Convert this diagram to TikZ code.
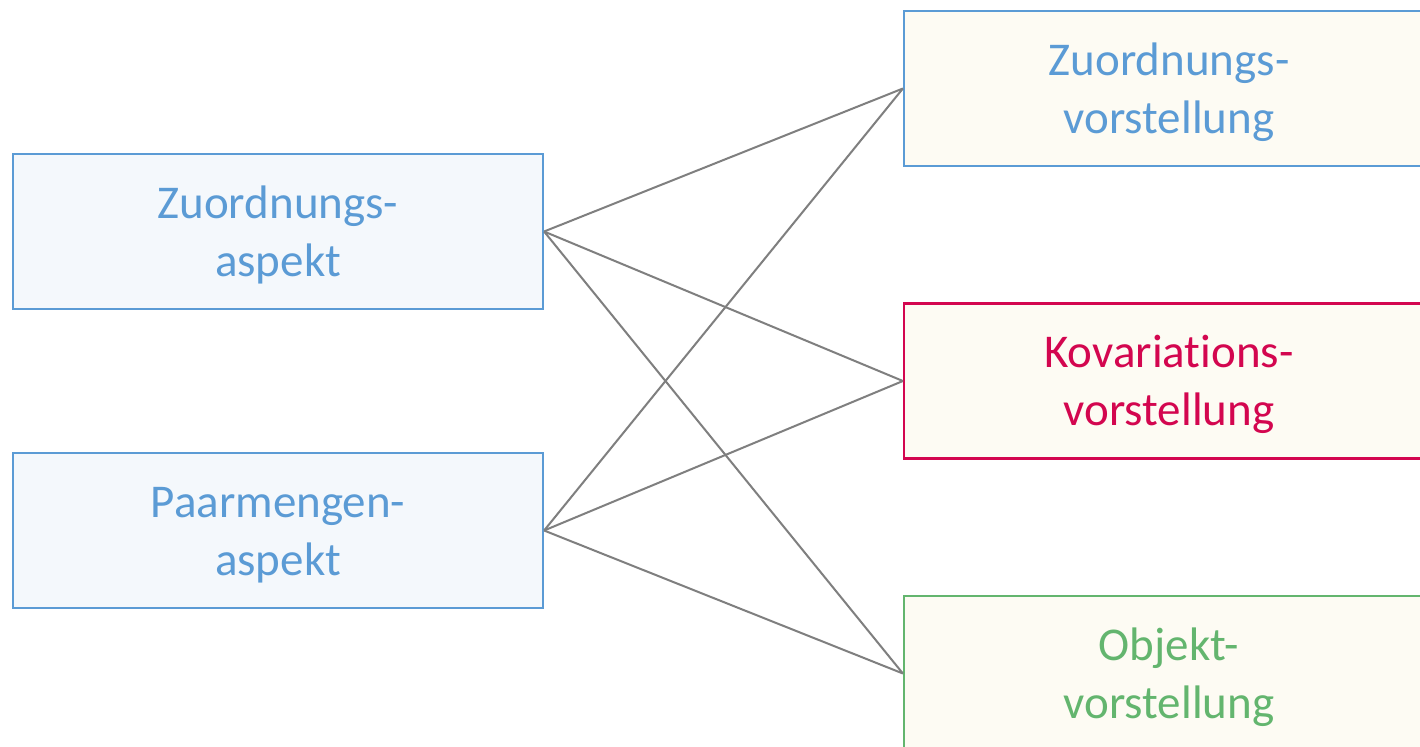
\documentclass[tikz,border=0pt]{standalone}
\usepackage{fontspec}
\setmainfont[Ligatures=NoCommon]{Carlito}
\definecolor{aspblue}{HTML}{5B9BD5}
\definecolor{aspfill}{HTML}{F4F8FC}
\definecolor{vorfill}{HTML}{FDFBF3}
\definecolor{kovred}{HTML}{D3064F}
\definecolor{objgreen}{HTML}{63B56E}
\definecolor{linkgray}{HTML}{7F7F7F}
% two centred lines, set a little below the middle of the box
\newcommand{\twolines}[2]{\raisebox{-2pt}[\height][\depth]{\begin{tabular}{@{}c@{}}#1\\#2\end{tabular}}}
\tikzset{
  box/.style={draw, line width=1.1pt, rectangle,
    minimum width=265pt, minimum height=77.5pt, inner sep=0pt,
    font=\fontsize{23.5}{29}\selectfont},
  aspect/.style={box, draw=aspblue, fill=aspfill, text=aspblue},
  idea/.style={box, fill=vorfill},
  link/.style={draw=linkgray, line width=1pt}
}
\begin{document}
\begin{tikzpicture}[x=0.5pt, y=-0.5pt]
  \useasboundingbox (0,0) rectangle (1420,746);
  \clip (0,0) rectangle (1420,746);
  \fill[white] (0,0) rectangle (1420,746);
  % aspects on the left
  \node[aspect] (za) at (278,231.5) {\twolines{Zuordnungs-}{aspekt}};
  \node[aspect] (pa) at (278,530.5) {\twolines{Paarmengen-}{aspekt}};
  % mental images on the right
  \node[idea, draw=aspblue, text=aspblue] (zv) at (1169,88.5) {\twolines{Zuordnungs-}{vorstellung}};
  \node[idea, draw=kovred, text=kovred] (kv) at (1169,381) {\twolines{Kovariations-}{vorstellung}};
  \node[idea, draw=objgreen, text=objgreen] (ov) at (1169,673.5) {\twolines{Objekt-}{vorstellung}};
  % connections
  \foreach \a in {za,pa}
    \foreach \b in {zv,kv,ov}
      \draw[link] (\a.east) -- (\b.west);
\end{tikzpicture}
\end{document}
